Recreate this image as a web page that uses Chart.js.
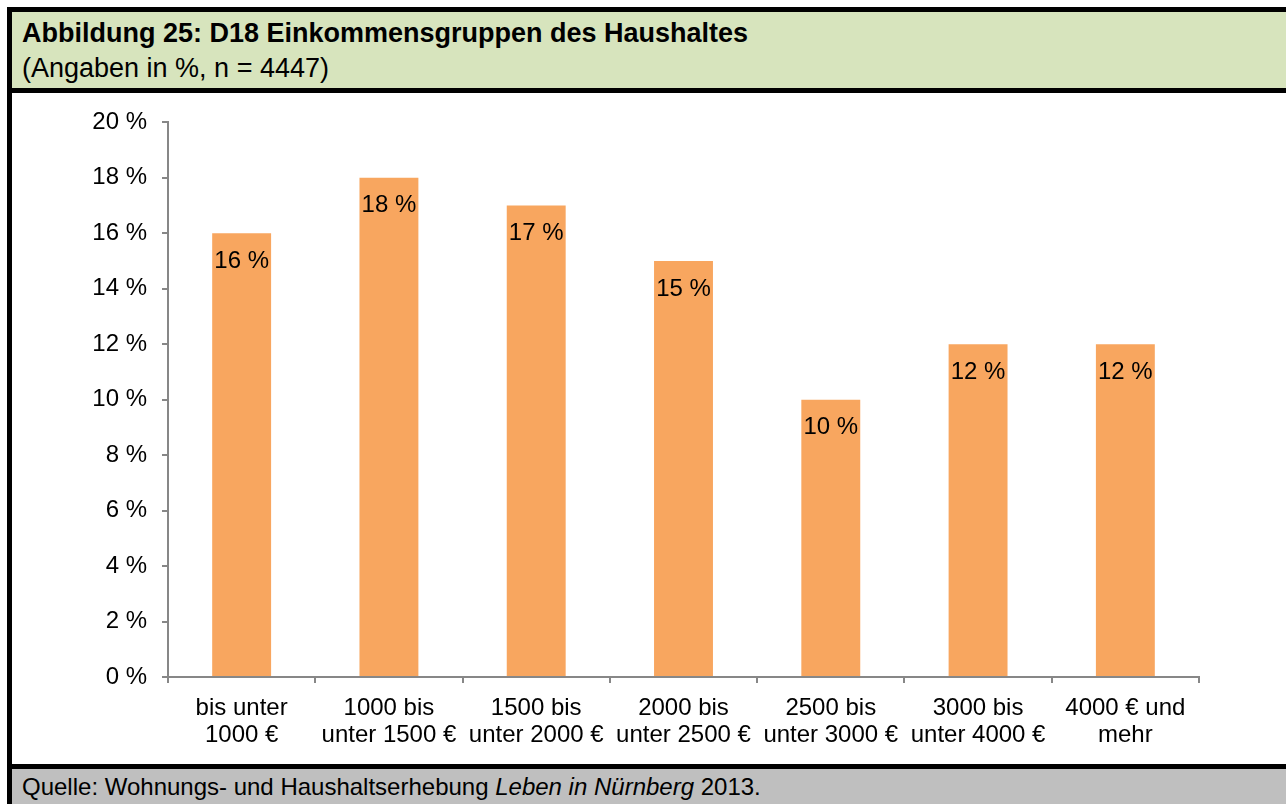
<!DOCTYPE html>
<html>
<head>
<meta charset="utf-8">
<script src="https://cdn.jsdelivr.net/npm/chart.js@4/dist/chart.umd.min.js"></script>
<style>
  body { margin: 0; background: #fff; font-family: "Liberation Sans", Arial, sans-serif; overflow: hidden; }
  #frame { position: absolute; left: 7px; top: 7px; width: 1300px; height: 820px; background: #000; }
  #head { position: absolute; left: 5px; top: 5px; width: 1285px; height: 76px; background: #D7E4BD; padding-left: 10px; box-sizing: border-box; }
  #head .t { font-weight: bold; font-size: 27px; line-height: 32px; margin-top: 5px; }
  #head .s { font-size: 27px; line-height: 38px; }
  #box { position: absolute; left: 5px; top: 86px; width: 1274px; height: 671px; background: #fff; }
  #foot { position: absolute; left: 5px; top: 762px; width: 1285px; height: 50px; background: #BFBFBF; padding-left: 10px; box-sizing: border-box; font-size: 24px; line-height: 35px; }
</style>
</head>
<body>
<div id="frame">
  <div id="head">
    <div class="t">Abbildung 25: D18 Einkommensgruppen des Haushaltes</div>
    <div class="s">(Angaben in %, n = 4447)</div>
  </div>
  <div id="box"><canvas id="chart"></canvas></div>
  <div id="foot">Quelle: Wohnungs- und Haushaltserhebung <i>Leben in Nürnberg</i> 2013.</div>
</div>
<script>
// Einkommensgruppen (Haushaltsnettoeinkommen)
const categories = [
    ['bis unter', '1000 €'],
    ['1000 bis', 'unter 1500 €'],
    ['1500 bis', 'unter 2000 €'],
    ['2000 bis', 'unter 2500 €'],
    ['2500 bis', 'unter 3000 €'],
    ['3000 bis', 'unter 4000 €'],
    ['4000 € und', 'mehr']
];
const shares = [16, 18, 17, 15, 10, 12, 12];
const yTicks = [0, 2, 4, 6, 8, 10, 12, 14, 16, 18, 20];

const axisGrey = '#878787';
const labelFont = { family: '"Liberation Sans", Arial, sans-serif', size: 24 };

// Werte in die Balken schreiben
const valueLabels = {
    id: 'valueLabels',
    afterDatasetsDraw(chart) {
        const ctx = chart.ctx;
        const meta = chart.getDatasetMeta(0);
        ctx.save();
        ctx.font = '24px "Liberation Sans", Arial, sans-serif';
        ctx.fillStyle = '#000';
        ctx.textAlign = 'center';
        ctx.textBaseline = 'middle';
        meta.data.forEach((bar, i) => {
            ctx.fillText(shares[i] + ' %', bar.x, bar.y + 28);
        });
        ctx.restore();
    }
};

function getConfig() {
    let config = {
        type: 'bar',
        data: {
            labels: categories,
            datasets: [
                {
                    label: 'Anteil',
                    data: shares,
                    backgroundColor: '#F8A65F',
                    categoryPercentage: 1,
                    barPercentage: 0.4
                }
            ]
        },
        options: {
            responsive: true,
            maintainAspectRatio: false,
            animation: false,
            layout: {
                padding: { top: 29, right: 87, bottom: 0, left: 0 }
            },
            plugins: {
                legend: { display: false },
                tooltip: { enabled: false }
            },
            scales: {
                x: {
                    offset: true,
                    grid: {
                        offset: true,
                        drawOnChartArea: false,
                        drawTicks: true,
                        tickLength: 6,
                        color: axisGrey,
                        lineWidth: 2
                    },
                    border: { color: axisGrey, width: 2 },
                    ticks: {
                        color: '#000',
                        font: Object.assign({ lineHeight: 1.13 }, labelFont),
                        padding: 12,
                        maxRotation: 0,
                        autoSkip: false
                    },
                    afterFit(scale) { scale.height = 87; }
                },
                y: {
                    min: 0,
                    max: 20,
                    afterBuildTicks(scale) {
                        scale.ticks = yTicks.map(v => ({ value: v }));
                    },
                    grid: {
                        drawOnChartArea: false,
                        drawTicks: true,
                        tickLength: 6,
                        color: axisGrey,
                        lineWidth: 2
                    },
                    border: { color: axisGrey, width: 2 },
                    ticks: {
                        color: '#000',
                        font: labelFont,
                        padding: 15,
                        callback: (v) => v + ' %'
                    },
                    afterFit(scale) { scale.width = 156; }
                }
            }
        },
        plugins: [valueLabels]
    };
    return config;
}

let ctx = document.getElementById('chart').getContext('2d');
window.myBar = new Chart(ctx, getConfig());
</script>
</body>
</html>
